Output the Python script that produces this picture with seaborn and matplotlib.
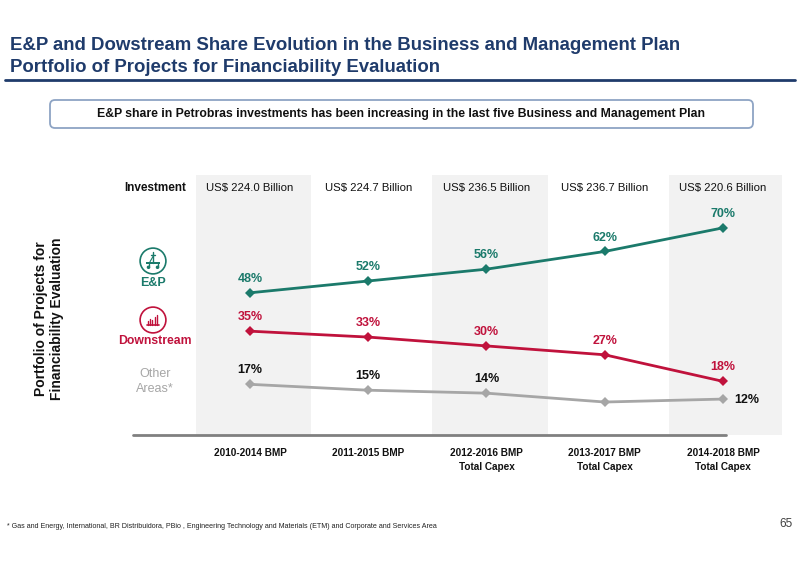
import matplotlib
matplotlib.use("Agg")
import matplotlib.pyplot as plt
import seaborn as sns
import pandas as pd
from matplotlib.patches import Circle, FancyBboxPatch, Rectangle
from matplotlib.lines import Line2D
from matplotlib.transforms import Affine2D

# data
plans = ["2010-2014 BMP", "2011-2015 BMP", "2012-2016 BMP\nTotal Capex",
         "2013-2017 BMP\nTotal Capex", "2014-2018 BMP\nTotal Capex"]
investment = ["US$ 224.0 Billion", "US$ 224.7 Billion", "US$ 236.5 Billion",
              "US$ 236.7 Billion", "US$ 220.6 Billion"]
ep_share = [48, 52, 56, 62, 70]
downstream_share = [35, 33, 30, 27, 18]
other_share = [17, 15, 14, 11, 12]
other_shown = [True, True, True, False, True]

TEAL = "#1B7A6B"
RED = "#C0123C"
GRAY = "#A6A6A6"
NAVY = "#1F3B6B"
BAND = "#F2F2F2"

sns.set_style("white")
plt.rcParams["font.family"] = ["Liberation Sans", "DejaVu Sans"]

df = pd.DataFrame({
    "pos": list(range(5)) * 3,
    "share": ep_share + downstream_share + other_share,
    "segment": ["E&P"] * 5 + ["Downstream"] * 5 + ["Other"] * 5,
})

fig = plt.figure(figsize=(8, 5.65), dpi=100)
# pixel coords (top-left origin) -> figure
pix = Affine2D().scale(1 / 800, -1 / 565).translate(0, 1) + fig.transFigure

ax = fig.add_axes([133 / 800, 1 - 434.5 / 565, 649 / 800, 259.5 / 565])
for i in range(0, 5, 2):
    ax.axvspan(i - 0.46, i + 0.52, color=BAND, zorder=0, lw=0)

sns.lineplot(data=df, x="pos", y="share", hue="segment",
             palette={"E&P": TEAL, "Downstream": RED, "Other": GRAY},
             marker="D", markersize=5.5, markeredgewidth=0, linewidth=2,
             legend=False, ax=ax, zorder=3)

ax.set_xlim(-0.9894, 4.499)
ax.set_ylim(0, 87.9)
for s in ax.spines.values():
    s.set_visible(False)
ax.set_yticks([])
ax.set_xlabel("")
ax.set_ylabel("")
ax.set_xticks(range(5))
ax.set_xticklabels(plans, fontsize=7.2, fontweight="bold", color="#111111")
for t in ax.get_xticklabels():
    t.set_linespacing(1.5)
ax.tick_params(axis="x", length=0, pad=9.5)

# baseline
ax.axhline(0, xmin=0, xmax=0.914, color="#808080", lw=2, zorder=2, clip_on=False)

# value labels
lab_kw = dict(textcoords="offset points", fontsize=9, fontweight="bold")
for i, v in enumerate(ep_share):
    ax.annotate(f"{v}%", (i, v), xytext=(0, 10), ha="center", va="center",
                color=TEAL, **lab_kw)
for i, v in enumerate(downstream_share):
    ax.annotate(f"{v}%", (i, v), xytext=(0, 10), ha="center", va="center",
                color=RED, **lab_kw)
for i, v in enumerate(other_share):
    if not other_shown[i]:
        continue
    if i == 4:
        ax.annotate(f"{v}%", (i, v), xytext=(8, -1), ha="left", va="center",
                    color="#111111", **lab_kw)
    else:
        ax.annotate(f"{v}%", (i, v), xytext=(0, 10), ha="center", va="center",
                    color="#111111", **lab_kw)

# investment header row
for i, lab in enumerate(investment):
    ax.text(i, 0.95, lab, transform=ax.get_xaxis_transform(), ha="center",
            va="center", fontsize=8.2, color="#111111")
fig.text(155, 188, "Investment", transform=pix, ha="center", va="center",
         fontsize=8.5, fontweight="bold", color="#111111")

# title
fig.text(10, 46, "E&P and Dowstream Share Evolution in the Business and Management Plan",
         transform=pix, ha="left", va="center", fontsize=13.4, fontweight="bold", color=NAVY)
fig.text(10, 68, "Portfolio of Projects for Financiability Evaluation",
         transform=pix, ha="left", va="center", fontsize=13.4, fontweight="bold", color=NAVY)
fig.add_artist(Line2D([5, 795], [80, 80], transform=pix, color=NAVY, lw=2))

# banner
fig.add_artist(FancyBboxPatch((50, 100), 703, 28, transform=pix,
                              boxstyle="round,pad=0,rounding_size=5",
                              fc="white", ec="#8EA4C4", lw=1.3))
fig.text(401, 114, "E&P share in Petrobras investments has been increasing in the last five Business and Management Plan",
         transform=pix, ha="center", va="center", fontsize=8.8, fontweight="bold", color="#111111")

# side label
fig.text(49, 319, "Portfolio of Projects for\nFinanciability Evaluation", transform=pix,
         ha="center", va="center", rotation=90, fontsize=10, fontweight="bold",
         color="#111111", linespacing=1.25)

# icons
def icon_axes(cx, cy, color):
    a = fig.add_axes([(cx - 15) / 800, 1 - (cy + 15) / 565, 30 / 800, 30 / 565])
    a.set_xlim(-1, 1)
    a.set_ylim(-1, 1)
    a.set_aspect("equal")
    a.axis("off")
    a.add_patch(Circle((0, 0), 0.86, fill=False, ec=color, lw=1.2))
    return a

a1 = icon_axes(153, 261, TEAL)
a1.plot([0, 0], [-0.1, 0.6], color=TEAL, lw=1)
a1.plot([-0.12, 0.12], [0.42, 0.42], color=TEAL, lw=1)
a1.plot([-0.2, 0], [-0.05, 0.3], color=TEAL, lw=0.8)
a1.add_patch(Rectangle((-0.45, -0.22), 0.9, 0.16, color=TEAL, lw=0))
a1.plot([-0.3, -0.3], [-0.22, -0.38], color=TEAL, lw=1)
a1.plot([0.3, 0.3], [-0.22, -0.38], color=TEAL, lw=1)
a1.add_patch(Circle((-0.3, -0.42), 0.07, color=TEAL))
a1.add_patch(Circle((0.3, -0.42), 0.07, color=TEAL))
fig.text(153, 283, "E&P", transform=pix, ha="center", va="center",
         fontsize=9, fontweight="bold", color=TEAL)

a2 = icon_axes(153, 320, RED)
for bx, bh in zip([-0.32, -0.18, -0.04, 0.1, 0.24], [0.3, 0.45, 0.35, 0.55, 0.7]):
    a2.plot([bx, bx], [-0.35, -0.35 + bh], color=RED, lw=1)
a2.plot([-0.42, 0.42], [-0.35, -0.35], color=RED, lw=1.2)
fig.text(155, 341, "Downstream", transform=pix, ha="center", va="center",
         fontsize=8.8, fontweight="bold", color=RED)

fig.text(155, 374, "Other", transform=pix, ha="center", va="center", fontsize=9, color=GRAY)
fig.text(155, 389, "Areas*", transform=pix, ha="center", va="center", fontsize=9, color=GRAY)

# footnote and page number
fig.text(7, 527, "* Gas and Energy, International, BR Distribuidora, PBio , Engineering Technology and Materials (ETM) and Corporate and Services Area",
         transform=pix, ha="left", va="center", fontsize=5.15, color="#222222")
fig.text(786, 524, "65", transform=pix, ha="center", va="center", fontsize=8.5, color="#404040")

fig.savefig("out.png", dpi=100)
